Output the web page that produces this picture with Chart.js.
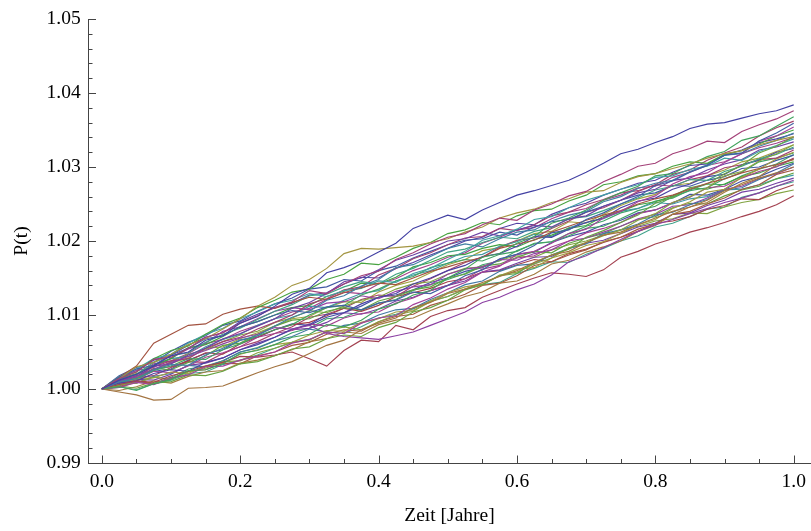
<!DOCTYPE html>
<html lang="de">
<head>
<meta charset="UTF-8" />
<title>P(t) Pfade</title>
<script src="https://cdn.jsdelivr.net/npm/chart.js"></script>
<style>
  html, body { margin: 0; padding: 0; background: #fff; }
  #wrap { width: 811px; height: 531px; position: relative; }
</style>
</head>
<body>
<div id="wrap"><canvas id="chartPfade"></canvas></div>
<script>
// Zeitachse (Jahre)
const zeit = [0, 0.025, 0.05, 0.075, 0.1, 0.125, 0.15, 0.175, 0.2, 0.225, 0.25,
  0.275, 0.3, 0.325, 0.35, 0.375, 0.4, 0.425, 0.45, 0.475, 0.5,
  0.525, 0.55, 0.575, 0.6, 0.625, 0.65, 0.675, 0.7, 0.725, 0.75,
  0.775, 0.8, 0.825, 0.85, 0.875, 0.9, 0.925, 0.95, 0.975, 1];

const xTicks = [0, 0.2, 0.4, 0.6, 0.8, 1.0];
const xMinorTicks = [0.05, 0.1, 0.15, 0.25, 0.3, 0.35, 0.45, 0.5, 0.55, 0.65, 0.7, 0.75, 0.85, 0.9, 0.95];
const yTicks = [0.99, 1.00, 1.01, 1.02, 1.03, 1.04, 1.05];
const yMinorTicks = [0.992, 0.994, 0.996, 0.998, 1.002, 1.004, 1.006, 1.008, 1.012, 1.014, 1.016, 1.018,
  1.022, 1.024, 1.026, 1.028, 1.032, 1.034, 1.036, 1.038, 1.042, 1.044, 1.046, 1.048];

const pfadA = [1.0000, 1.0012, 1.0020, 1.0031, 1.0045, 1.0050, 1.0066, 1.0072, 1.0089, 1.0098, 1.0112,
  1.0128, 1.0136, 1.0157, 1.0164, 1.0173, 1.0185, 1.0197, 1.0217, 1.0226, 1.0235,
  1.0229, 1.0242, 1.0252, 1.0262, 1.0268, 1.0275, 1.0282, 1.0293, 1.0305, 1.0318,
  1.0324, 1.0333, 1.0341, 1.0352, 1.0358, 1.0360, 1.0366, 1.0372, 1.0376, 1.0384];
const pfadB = [1.0000, 1.0006, 1.0011, 1.0009, 1.0018, 1.0024, 1.0031, 1.0036, 1.0044, 1.0043, 1.0046,
  1.0050, 1.0041, 1.0031, 1.0052, 1.0066, 1.0064, 1.0086, 1.0080, 1.0098, 1.0106,
  1.0110, 1.0124, 1.0133, 1.0142, 1.0150, 1.0157, 1.0155, 1.0152, 1.0161, 1.0178,
  1.0186, 1.0196, 1.0203, 1.0212, 1.0218, 1.0225, 1.0233, 1.0240, 1.0249, 1.0261];
const pfadC = [1.0000, 1.0010, 1.0017, 1.0027, 1.0036, 1.0044, 1.0052, 1.0061, 1.0069, 1.0074, 1.0083,
  1.0081, 1.0086, 1.0075, 1.0071, 1.0069, 1.0067, 1.0072, 1.0077, 1.0086, 1.0095,
  1.0104, 1.0117, 1.0124, 1.0134, 1.0142, 1.0154, 1.0172, 1.0180, 1.0191, 1.0202,
  1.0213, 1.0222, 1.0229, 1.0237, 1.0244, 1.0252, 1.0258, 1.0265, 1.0274, 1.0282];
const pfadD = [1.0000, 1.0014, 1.0030, 1.0036, 1.0047, 1.0060, 1.0068, 1.0081, 1.0095, 1.0112, 1.0124,
  1.0140, 1.0148, 1.0163, 1.0183, 1.0190, 1.0189, 1.0191, 1.0193, 1.0198, 1.0203,
  1.0212, 1.0219, 1.0231, 1.0238, 1.0243, 1.0252, 1.0257, 1.0266, 1.0268, 1.0279,
  1.0287, 1.0291, 1.0298, 1.0304, 1.0312, 1.0318, 1.0322, 1.0330, 1.0336, 1.0341];
const pfadE = [1.0000, 1.0016, 1.0031, 1.0062, 1.0074, 1.0086, 1.0088, 1.0101, 1.0108, 1.0112, 1.0109,
  1.0117, 1.0124, 1.0121, 1.0130, 1.0137, 1.0143, 1.0141, 1.0150, 1.0159, 1.0165,
  1.0172, 1.0178, 1.0190, 1.0196, 1.0201, 1.0212, 1.0220, 1.0228, 1.0235, 1.0241,
  1.0250, 1.0257, 1.0262, 1.0270, 1.0278, 1.0284, 1.0292, 1.0298, 1.0303, 1.0311];
const pfadF = [1.0000, 0.9996, 0.9992, 0.9985, 0.9986, 1.0001, 1.0002, 1.0004, 1.0013, 1.0022, 1.0030,
  1.0037, 1.0048, 1.0059, 1.0066, 1.0080, 1.0089, 1.0096, 1.0110, 1.0117, 1.0129,
  1.0135, 1.0144, 1.0152, 1.0160, 1.0171, 1.0181, 1.0186, 1.0198, 1.0208, 1.0212,
  1.0222, 1.0231, 1.0240, 1.0246, 1.0255, 1.0268, 1.0276, 1.0285, 1.0292, 1.0300];
const pfadG = [1.0000, 1.0014, 1.0023, 1.0040, 1.0043, 1.0055, 1.0070, 1.0076, 1.0089, 1.0099, 1.0110,
  1.0118, 1.0133, 1.0129, 1.0142, 1.0153, 1.0159, 1.0175, 1.0184, 1.0196, 1.0205,
  1.0210, 1.0222, 1.0231, 1.0228, 1.0242, 1.0250, 1.0261, 1.0267, 1.0280, 1.0290,
  1.0301, 1.0305, 1.0318, 1.0325, 1.0335, 1.0333, 1.0348, 1.0357, 1.0365, 1.0376];
const pfadH = [1.0000, 1.0003, 0.9998, 1.0007, 1.0013, 1.0025, 1.0026, 1.0034, 1.0048, 1.0052, 1.0060,
  1.0070, 1.0074, 1.0087, 1.0084, 1.0093, 1.0108, 1.0115, 1.0127, 1.0133, 1.0150,
  1.0162, 1.0178, 1.0183, 1.0197, 1.0206, 1.0224, 1.0231, 1.0242, 1.0255, 1.0265,
  1.0274, 1.0288, 1.0291, 1.0303, 1.0314, 1.0321, 1.0336, 1.0342, 1.0355, 1.0368];
const pfadI = [1.0000, 1.0016, 1.0027, 1.0032, 1.0046, 1.0055, 1.0068, 1.0072, 1.0084, 1.0091, 1.0100,
  1.0106, 1.0103, 1.0111, 1.0113, 1.0107, 1.0116, 1.0120, 1.0131, 1.0129, 1.0140,
  1.0153, 1.0161, 1.0176, 1.0182, 1.0194, 1.0211, 1.0215, 1.0229, 1.0238, 1.0250,
  1.0260, 1.0275, 1.0281, 1.0293, 1.0302, 1.0316, 1.0319, 1.0335, 1.0346, 1.0359];
const pfadJ = [1.0000, 1.0002, 1.0009, 1.0006, 1.0015, 1.0019, 1.0030, 1.0031, 1.0039, 1.0044, 1.0050,
  1.0062, 1.0067, 1.0077, 1.0075, 1.0089, 1.0096, 1.0099, 1.0114, 1.0123, 1.0135,
  1.0144, 1.0158, 1.0166, 1.0182, 1.0186, 1.0197, 1.0210, 1.0216, 1.0231, 1.0240,
  1.0253, 1.0261, 1.0277, 1.0287, 1.0292, 1.0306, 1.0318, 1.0335, 1.0342, 1.0354];
const pfadK = [1.0000, 1.0015, 1.0023, 1.0041, 1.0052, 1.0058, 1.0074, 1.0087, 1.0096, 1.0110, 1.0120,
  1.0131, 1.0135, 1.0148, 1.0155, 1.0170, 1.0168, 1.0178, 1.0190, 1.0198, 1.0210,
  1.0215, 1.0225, 1.0222, 1.0234, 1.0241, 1.0243, 1.0254, 1.0262, 1.0276, 1.0280,
  1.0288, 1.0291, 1.0301, 1.0307, 1.0305, 1.0317, 1.0322, 1.0331, 1.0342, 1.0350];
const pfadL = [1.0000, 1.0010, 1.0014, 1.0026, 1.0033, 1.0032, 1.0046, 1.0055, 1.0066, 1.0072, 1.0085,
  1.0097, 1.0105, 1.0120, 1.0126, 1.0139, 1.0148, 1.0164, 1.0168, 1.0179, 1.0190,
  1.0196, 1.0192, 1.0203, 1.0212, 1.0215, 1.0227, 1.0235, 1.0240, 1.0253, 1.0260,
  1.0271, 1.0278, 1.0282, 1.0294, 1.0303, 1.0316, 1.0318, 1.0328, 1.0336, 1.0346];
const pfadM = [1.0000, 1.0004, 1.0001, 1.0008, 1.0010, 1.0019, 1.0018, 1.0024, 1.0034, 1.0037, 1.0045,
  1.0054, 1.0057, 1.0068, 1.0073, 1.0071, 1.0083, 1.0090, 1.0104, 1.0110, 1.0120,
  1.0134, 1.0141, 1.0153, 1.0156, 1.0171, 1.0181, 1.0189, 1.0205, 1.0214, 1.0225,
  1.0235, 1.0251, 1.0259, 1.0272, 1.0277, 1.0291, 1.0302, 1.0319, 1.0328, 1.0341];
const pfadN = [1.0000, 1.0017, 1.0027, 1.0041, 1.0047, 1.0062, 1.0074, 1.0082, 1.0095, 1.0104, 1.0115,
  1.0120, 1.0129, 1.0125, 1.0133, 1.0136, 1.0146, 1.0144, 1.0156, 1.0163, 1.0175,
  1.0186, 1.0201, 1.0207, 1.0216, 1.0229, 1.0233, 1.0245, 1.0255, 1.0262, 1.0270,
  1.0276, 1.0286, 1.0288, 1.0297, 1.0301, 1.0312, 1.0309, 1.0321, 1.0329, 1.0338];
const pfadO = [1.0000, 1.0011, 1.0017, 1.0031, 1.0034, 1.0046, 1.0055, 1.0068, 1.0075, 1.0085, 1.0095,
  1.0109, 1.0117, 1.0129, 1.0145, 1.0150, 1.0161, 1.0174, 1.0181, 1.0190, 1.0200,
  1.0203, 1.0212, 1.0207, 1.0215, 1.0221, 1.0219, 1.0230, 1.0234, 1.0247, 1.0255,
  1.0265, 1.0270, 1.0282, 1.0285, 1.0296, 1.0304, 1.0310, 1.0323, 1.0327, 1.0334];
const pfadP = [1.0000, 1.0006, 1.0008, 1.0016, 1.0013, 1.0023, 1.0028, 1.0037, 1.0038, 1.0049, 1.0055,
  1.0063, 1.0066, 1.0078, 1.0084, 1.0080, 1.0091, 1.0100, 1.0105, 1.0118, 1.0125,
  1.0135, 1.0141, 1.0154, 1.0158, 1.0169, 1.0177, 1.0191, 1.0198, 1.0207, 1.0215,
  1.0228, 1.0237, 1.0252, 1.0260, 1.0272, 1.0288, 1.0294, 1.0308, 1.0318, 1.0330];
const pfadQ = [1.0000, 1.0013, 1.0020, 1.0036, 1.0045, 1.0049, 1.0063, 1.0074, 1.0082, 1.0094, 1.0105,
  1.0114, 1.0126, 1.0128, 1.0138, 1.0145, 1.0142, 1.0155, 1.0163, 1.0174, 1.0185,
  1.0189, 1.0198, 1.0205, 1.0203, 1.0213, 1.0218, 1.0230, 1.0233, 1.0241, 1.0250,
  1.0258, 1.0269, 1.0274, 1.0283, 1.0282, 1.0294, 1.0301, 1.0311, 1.0317, 1.0327];
const pfadR = [1.0000, 1.0008, 1.0011, 1.0021, 1.0026, 1.0024, 1.0036, 1.0042, 1.0053, 1.0060, 1.0070,
  1.0081, 1.0087, 1.0101, 1.0103, 1.0115, 1.0124, 1.0129, 1.0142, 1.0150, 1.0160,
  1.0167, 1.0179, 1.0183, 1.0193, 1.0206, 1.0205, 1.0216, 1.0225, 1.0231, 1.0245,
  1.0254, 1.0258, 1.0270, 1.0277, 1.0287, 1.0290, 1.0303, 1.0309, 1.0320, 1.0325];
const pfadS = [1.0000, 1.0012, 1.0017, 1.0030, 1.0038, 1.0041, 1.0055, 1.0064, 1.0070, 1.0081, 1.0090,
  1.0100, 1.0115, 1.0122, 1.0134, 1.0138, 1.0154, 1.0163, 1.0176, 1.0184, 1.0195,
  1.0204, 1.0206, 1.0217, 1.0214, 1.0222, 1.0234, 1.0239, 1.0249, 1.0256, 1.0265,
  1.0268, 1.0276, 1.0274, 1.0283, 1.0288, 1.0299, 1.0303, 1.0310, 1.0312, 1.0323];
const pfadT = [1.0000, 1.0005, 1.0014, 1.0015, 1.0023, 1.0021, 1.0031, 1.0035, 1.0047, 1.0053, 1.0060,
  1.0063, 1.0073, 1.0079, 1.0078, 1.0090, 1.0095, 1.0104, 1.0106, 1.0119, 1.0130,
  1.0138, 1.0142, 1.0153, 1.0162, 1.0164, 1.0177, 1.0184, 1.0194, 1.0199, 1.0210,
  1.0222, 1.0229, 1.0244, 1.0253, 1.0266, 1.0270, 1.0286, 1.0297, 1.0311, 1.0320];
const pfadU = [1.0000, 1.0009, 1.0013, 1.0025, 1.0031, 1.0041, 1.0040, 1.0053, 1.0061, 1.0072, 1.0080,
  1.0087, 1.0100, 1.0110, 1.0113, 1.0127, 1.0135, 1.0146, 1.0152, 1.0164, 1.0170,
  1.0175, 1.0173, 1.0182, 1.0186, 1.0197, 1.0199, 1.0207, 1.0217, 1.0220, 1.0230,
  1.0241, 1.0247, 1.0260, 1.0268, 1.0272, 1.0284, 1.0293, 1.0307, 1.0312, 1.0319];
const pfadV = [1.0000, 1.0018, 1.0029, 1.0036, 1.0051, 1.0063, 1.0072, 1.0086, 1.0092, 1.0105, 1.0115,
  1.0123, 1.0135, 1.0138, 1.0148, 1.0146, 1.0160, 1.0166, 1.0177, 1.0186, 1.0195,
  1.0201, 1.0203, 1.0212, 1.0208, 1.0219, 1.0226, 1.0229, 1.0239, 1.0247, 1.0255,
  1.0262, 1.0265, 1.0275, 1.0274, 1.0282, 1.0287, 1.0298, 1.0300, 1.0309, 1.0316];
const pfadW = [1.0000, 1.0010, 1.0013, 1.0024, 1.0022, 1.0031, 1.0043, 1.0049, 1.0057, 1.0070, 1.0075,
  1.0079, 1.0088, 1.0085, 1.0096, 1.0102, 1.0104, 1.0116, 1.0123, 1.0133, 1.0140,
  1.0149, 1.0162, 1.0167, 1.0177, 1.0180, 1.0192, 1.0200, 1.0211, 1.0217, 1.0225,
  1.0237, 1.0242, 1.0252, 1.0259, 1.0272, 1.0274, 1.0285, 1.0294, 1.0300, 1.0312];
const pfadX = [1.0000, 0.9998, 1.0003, 1.0011, 1.0008, 1.0017, 1.0023, 1.0025, 1.0035, 1.0039, 1.0045,
  1.0053, 1.0064, 1.0068, 1.0077, 1.0075, 1.0087, 1.0093, 1.0096, 1.0106, 1.0115,
  1.0125, 1.0131, 1.0143, 1.0146, 1.0155, 1.0169, 1.0174, 1.0185, 1.0192, 1.0200,
  1.0213, 1.0221, 1.0236, 1.0246, 1.0252, 1.0266, 1.0278, 1.0287, 1.0303, 1.0310];
const pfadY = [1.0000, 1.0014, 1.0020, 1.0032, 1.0041, 1.0056, 1.0060, 1.0071, 1.0084, 1.0091, 1.0100,
  1.0110, 1.0113, 1.0125, 1.0132, 1.0143, 1.0142, 1.0151, 1.0165, 1.0171, 1.0180,
  1.0182, 1.0190, 1.0195, 1.0192, 1.0202, 1.0208, 1.0217, 1.0221, 1.0233, 1.0240,
  1.0249, 1.0253, 1.0261, 1.0272, 1.0270, 1.0277, 1.0287, 1.0292, 1.0301, 1.0307];
const pfadZ = [1.0000, 1.0007, 1.0008, 1.0017, 1.0021, 1.0032, 1.0030, 1.0038, 1.0050, 1.0055, 1.0065,
  1.0071, 1.0081, 1.0077, 1.0086, 1.0089, 1.0100, 1.0107, 1.0109, 1.0121, 1.0130,
  1.0141, 1.0146, 1.0159, 1.0167, 1.0169, 1.0181, 1.0190, 1.0196, 1.0210, 1.0215,
  1.0223, 1.0235, 1.0239, 1.0249, 1.0256, 1.0269, 1.0272, 1.0283, 1.0292, 1.0304];
const pfadAA = [1.0000, 1.0015, 1.0025, 1.0029, 1.0042, 1.0054, 1.0062, 1.0078, 1.0084, 1.0095, 1.0105,
  1.0110, 1.0107, 1.0116, 1.0118, 1.0126, 1.0122, 1.0132, 1.0138, 1.0141, 1.0155,
  1.0162, 1.0165, 1.0175, 1.0174, 1.0183, 1.0188, 1.0200, 1.0204, 1.0212, 1.0220,
  1.0230, 1.0236, 1.0247, 1.0249, 1.0258, 1.0270, 1.0274, 1.0284, 1.0291, 1.0300];
const pfadAB = [1.0000, 1.0003, 1.0011, 1.0007, 1.0014, 1.0024, 1.0026, 1.0035, 1.0034, 1.0045, 1.0050,
  1.0059, 1.0063, 1.0074, 1.0080, 1.0078, 1.0091, 1.0098, 1.0101, 1.0113, 1.0120,
  1.0128, 1.0140, 1.0143, 1.0153, 1.0167, 1.0172, 1.0181, 1.0188, 1.0199, 1.0205,
  1.0216, 1.0223, 1.0236, 1.0240, 1.0250, 1.0258, 1.0270, 1.0276, 1.0290, 1.0296];
const pfadAC = [1.0000, 1.0011, 1.0015, 1.0028, 1.0026, 1.0036, 1.0045, 1.0059, 1.0062, 1.0074, 1.0085,
  1.0093, 1.0095, 1.0105, 1.0110, 1.0107, 1.0119, 1.0125, 1.0134, 1.0138, 1.0150,
  1.0155, 1.0166, 1.0169, 1.0178, 1.0186, 1.0184, 1.0197, 1.0204, 1.0210, 1.0220,
  1.0229, 1.0233, 1.0245, 1.0251, 1.0250, 1.0261, 1.0269, 1.0274, 1.0284, 1.0292];
const pfadAD = [1.0000, 1.0014, 1.0020, 1.0032, 1.0041, 1.0044, 1.0057, 1.0067, 1.0074, 1.0086, 1.0095,
  1.0100, 1.0112, 1.0110, 1.0120, 1.0129, 1.0133, 1.0146, 1.0154, 1.0160, 1.0170,
  1.0179, 1.0182, 1.0193, 1.0199, 1.0209, 1.0206, 1.0218, 1.0225, 1.0230, 1.0240,
  1.0244, 1.0252, 1.0250, 1.0257, 1.0260, 1.0269, 1.0270, 1.0276, 1.0284, 1.0289];
const pfadAE = [1.0000, 1.0004, 1.0013, 1.0012, 1.0020, 1.0032, 1.0035, 1.0042, 1.0053, 1.0062, 1.0070,
  1.0080, 1.0082, 1.0090, 1.0103, 1.0101, 1.0108, 1.0119, 1.0124, 1.0133, 1.0140,
  1.0146, 1.0158, 1.0161, 1.0170, 1.0178, 1.0179, 1.0190, 1.0197, 1.0201, 1.0210,
  1.0219, 1.0224, 1.0236, 1.0238, 1.0248, 1.0255, 1.0266, 1.0270, 1.0278, 1.0285];
const pfadAF = [1.0000, 1.0010, 1.0015, 1.0027, 1.0030, 1.0038, 1.0049, 1.0047, 1.0061, 1.0070, 1.0080,
  1.0087, 1.0090, 1.0099, 1.0109, 1.0105, 1.0113, 1.0125, 1.0130, 1.0136, 1.0145,
  1.0149, 1.0158, 1.0160, 1.0168, 1.0175, 1.0172, 1.0183, 1.0189, 1.0198, 1.0205,
  1.0213, 1.0224, 1.0227, 1.0233, 1.0243, 1.0248, 1.0257, 1.0256, 1.0268, 1.0276];
const pfadAG = [1.0000, 1.0013, 1.0021, 1.0025, 1.0037, 1.0047, 1.0053, 1.0064, 1.0073, 1.0078, 1.0090,
  1.0096, 1.0106, 1.0103, 1.0112, 1.0120, 1.0124, 1.0135, 1.0142, 1.0145, 1.0155,
  1.0163, 1.0165, 1.0174, 1.0180, 1.0178, 1.0188, 1.0195, 1.0200, 1.0208, 1.0215,
  1.0220, 1.0227, 1.0230, 1.0238, 1.0237, 1.0246, 1.0252, 1.0256, 1.0264, 1.0269];
const pfadAH = [1.0000, 1.0003, 0.9999, 1.0007, 1.0012, 1.0021, 1.0023, 1.0033, 1.0039, 1.0046, 1.0055,
  1.0063, 1.0067, 1.0077, 1.0075, 1.0084, 1.0096, 1.0101, 1.0108, 1.0119, 1.0125,
  1.0135, 1.0141, 1.0144, 1.0156, 1.0163, 1.0172, 1.0171, 1.0182, 1.0190, 1.0200,
  1.0207, 1.0219, 1.0224, 1.0233, 1.0243, 1.0246, 1.0259, 1.0265, 1.0274, 1.0280];
const pfadAI = [1.0000, 1.0016, 1.0025, 1.0039, 1.0046, 1.0059, 1.0070, 1.0076, 1.0091, 1.0101, 1.0110,
  1.0116, 1.0127, 1.0130, 1.0142, 1.0151, 1.0150, 1.0163, 1.0171, 1.0181, 1.0190,
  1.0200, 1.0205, 1.0217, 1.0224, 1.0222, 1.0236, 1.0245, 1.0251, 1.0262, 1.0270,
  1.0278, 1.0282, 1.0293, 1.0302, 1.0304, 1.0316, 1.0323, 1.0333, 1.0338, 1.0345];
const pfadAJ = [1.0000, 1.0005, 1.0015, 1.0018, 1.0029, 1.0037, 1.0036, 1.0048, 1.0057, 1.0064, 1.0075,
  1.0084, 1.0097, 1.0101, 1.0109, 1.0121, 1.0127, 1.0125, 1.0139, 1.0149, 1.0160,
  1.0171, 1.0178, 1.0192, 1.0201, 1.0204, 1.0217, 1.0227, 1.0239, 1.0245, 1.0255,
  1.0267, 1.0276, 1.0290, 1.0296, 1.0309, 1.0319, 1.0327, 1.0342, 1.0353, 1.0362];
const pfadAK = [1.0000, 1.0009, 1.0021, 1.0025, 1.0035, 1.0042, 1.0055, 1.0057, 1.0068, 1.0076, 1.0085,
  1.0095, 1.0098, 1.0110, 1.0118, 1.0117, 1.0131, 1.0140, 1.0146, 1.0157, 1.0168,
  1.0175, 1.0187, 1.0191, 1.0200, 1.0210, 1.0213, 1.0226, 1.0224, 1.0236, 1.0248,
  1.0257, 1.0263, 1.0275, 1.0278, 1.0288, 1.0296, 1.0307, 1.0312, 1.0321, 1.0330];
const pfadAL = [1.0000, 1.0002, 1.0010, 1.0007, 1.0016, 1.0027, 1.0031, 1.0038, 1.0050, 1.0056, 1.0065,
  1.0076, 1.0082, 1.0095, 1.0097, 1.0106, 1.0116, 1.0121, 1.0133, 1.0141, 1.0148,
  1.0156, 1.0168, 1.0173, 1.0187, 1.0196, 1.0199, 1.0210, 1.0220, 1.0227, 1.0238,
  1.0244, 1.0254, 1.0258, 1.0269, 1.0277, 1.0276, 1.0288, 1.0297, 1.0304, 1.0317];
const pfadAM = [1.0000, 1.0007, 1.0018, 1.0024, 1.0027, 1.0039, 1.0048, 1.0053, 1.0066, 1.0070, 1.0080,
  1.0088, 1.0086, 1.0097, 1.0103, 1.0112, 1.0124, 1.0127, 1.0134, 1.0144, 1.0150,
  1.0159, 1.0164, 1.0175, 1.0182, 1.0185, 1.0198, 1.0206, 1.0212, 1.0222, 1.0228,
  1.0238, 1.0242, 1.0251, 1.0263, 1.0262, 1.0270, 1.0281, 1.0287, 1.0297, 1.0305];
const pfadAN = [1.0000, 1.0012, 1.0019, 1.0034, 1.0038, 1.0048, 1.0061, 1.0067, 1.0078, 1.0086, 1.0095,
  1.0104, 1.0109, 1.0121, 1.0131, 1.0129, 1.0142, 1.0149, 1.0160, 1.0168, 1.0178,
  1.0184, 1.0197, 1.0205, 1.0215, 1.0218, 1.0230, 1.0239, 1.0244, 1.0255, 1.0262,
  1.0272, 1.0274, 1.0286, 1.0293, 1.0302, 1.0307, 1.0318, 1.0326, 1.0332, 1.0340];

// Reihenfolge bestimmt die Farbe (Mathematica-Standardfarben)
const pfade = [pfadA, pfadG, pfadD, pfadH, pfadI, pfadJ, pfadF, pfadK, pfadL, pfadC,
  pfadE, pfadM, pfadN, pfadO, pfadB, pfadP, pfadQ, pfadR, pfadS, pfadT,
  pfadU, pfadV, pfadW, pfadX, pfadY, pfadZ, pfadAA, pfadAB, pfadAC, pfadAD,
  pfadAE, pfadAF, pfadAG, pfadAH, pfadAI, pfadAJ, pfadAK, pfadAL, pfadAM, pfadAN];

function hsvColor(h, s, v) {
  const i = Math.floor(h * 6), f = h * 6 - i;
  const p = v * (1 - s), q = v * (1 - f * s), t = v * (1 - (1 - f) * s);
  const rgb = [[v, t, p], [q, v, p], [p, v, t], [p, q, v], [t, p, v], [v, p, q]][i % 6];
  return 'rgb(' + rgb.map(c => Math.round(c * 255)).join(',') + ')';
}

function farbe(i) {
  const h = (0.67 + i * 0.236068) % 1;
  return hsvColor(h, 0.6, 0.64);
}

const schrift = { family: "'Liberation Serif', 'Times New Roman', serif", size: 19.5 };
const achsenFarbe = '#444';

// Ticks zeigen nach innen wie bei Mathematica
const innenTicks = {
  id: 'innenTicks',
  afterDraw(chart) {
    const { ctx, chartArea, scales: { x, y } } = chart;
    ctx.save();
    ctx.strokeStyle = achsenFarbe;
    ctx.lineWidth = 1;
    ctx.beginPath();
    const xStrich = (v, len) => {
      const px = Math.round(x.getPixelForValue(v)) + 0.5;
      ctx.moveTo(px, chartArea.bottom);
      ctx.lineTo(px, chartArea.bottom - len);
    };
    const yStrich = (v, len) => {
      const py = Math.round(y.getPixelForValue(v)) + 0.5;
      ctx.moveTo(chartArea.left, py);
      ctx.lineTo(chartArea.left + len, py);
    };
    xTicks.forEach(v => xStrich(v, 7.5));
    xMinorTicks.forEach(v => xStrich(v, 4));
    yTicks.forEach(v => yStrich(v, 8));
    yMinorTicks.forEach(v => yStrich(v, 4.5));
    ctx.stroke();
    ctx.restore();
  }
};

new Chart(document.getElementById('chartPfade'), {
  type: 'line',
  data: {
    datasets: pfade.map((werte, i) => ({
      data: werte.map((p, k) => ({ x: zeit[k], y: p })),
      borderColor: farbe(i),
      borderWidth: 1.15,
      pointRadius: 0,
      tension: 0,
      fill: false
    }))
  },
  options: {
    responsive: true,
    maintainAspectRatio: false,
    animation: false,
    events: [],
    layout: { padding: { top: 19, right: 0, bottom: 0, left: 0 } },
    plugins: {
      legend: { display: false },
      tooltip: { enabled: false }
    },
    scales: {
      x: {
        type: 'linear',
        min: -0.02,
        max: 1.025,
        afterBuildTicks: s => { s.ticks = xTicks.map(v => ({ value: v })); },
        afterFit: s => { s.height = 68; },
        grid: { display: false, drawTicks: true, tickLength: 6 },
        border: { display: true, color: achsenFarbe, width: 1 },
        ticks: {
          padding: 1.6,
          maxRotation: 0,
          autoSkip: false,
          color: '#000',
          font: schrift,
          callback: v => Number(v).toFixed(1)
        },
        title: {
          display: true,
          text: 'Zeit [Jahre]',
          color: '#000',
          font: schrift,
          padding: { top: 0, bottom: 3 }
        }
      },
      y: {
        min: 0.99,
        max: 1.05,
        afterBuildTicks: s => { s.ticks = yTicks.map(v => ({ value: v })); },
        afterFit: s => { s.width = 88; },
        grid: { display: false, drawTicks: true, tickLength: 6 },
        border: { display: true, color: achsenFarbe, width: 1 },
        ticks: {
          padding: 1.3,
          autoSkip: false,
          color: '#000',
          font: schrift,
          callback: v => Number(v).toFixed(2)
        },
        title: {
          display: true,
          text: 'P(t)',
          color: '#000',
          font: schrift,
          padding: { top: 10, bottom: 0 }
        }
      }
    }
  },
  plugins: [innenTicks]
});
</script>
</body>
</html>
